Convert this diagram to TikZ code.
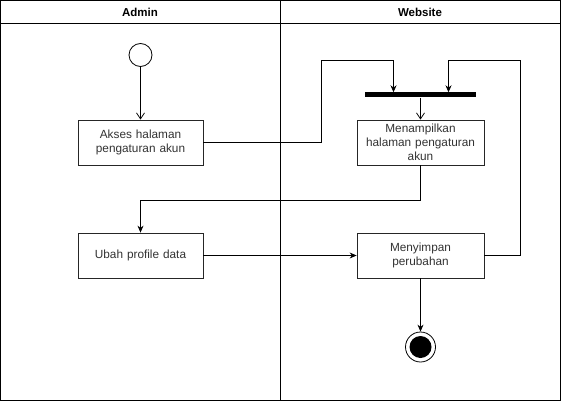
\documentclass[tikz,border=0pt]{standalone}
\usepackage{fontspec}
\setmainfont{Liberation Sans}
\usetikzlibrary{arrows.meta}
\definecolor{txt}{HTML}{333333}
\begin{document}
\begin{tikzpicture}[x=1pt,y=-1pt,
  lane/.style={draw=black,line width=0.8pt},
  act/.style={draw=black!85,line width=0.8pt,fill=white,minimum width=125pt,minimum height=45pt,
    align=center,text=txt,font=\fontsize{11.8}{14}\selectfont,inner sep=2pt,text width=121pt},
  hdr/.style={font=\bfseries\fontsize{11.5}{13}\selectfont},
  flow/.style={draw=black,line width=0.8pt,-{Stealth[length=7pt,width=6pt]}},
  openflow/.style={draw=black,line width=0.8pt,-{Straight Barb[length=6pt,width=8pt]}}]
\useasboundingbox (0,0) rectangle (561,401);
% pool
\draw[lane] (0.5,0.5) rectangle (560.5,400.5);
\draw[lane] (0.5,23) -- (560.5,23);
\draw[lane] (280,0.5) -- (280,400.5);
\node[hdr] (hA) at (140,12) {Admin};
\node[hdr] (hW) at (420,12) {Website};
% nodes
\node[circle,draw=black,line width=0.8pt,minimum size=23pt,inner sep=0pt] (start) at (140.5,55) {};
\node[act,minimum width=125pt] (akses) at (140.5,142.5) {Akses halaman\\pengaturan akun};
\node[act,minimum width=125pt] (ubah) at (140.5,255.5) {Ubah profile data};
\node[fill=black,minimum width=111pt,minimum height=5pt,inner sep=0pt] (bar) at (420.5,95) {};
\node[act,minimum width=127pt] (tampil) at (420.5,142.5) {Menampilkan\\halaman pengaturan\\akun};
\node[act,minimum width=127pt] (simpan) at (420.5,255.5) {Menyimpan\\perubahan};
\node[circle,draw=black,line width=0.8pt,minimum size=30pt,inner sep=0pt] (end) at (420.5,347) {};
\node[circle,fill=black,minimum size=22pt,inner sep=0pt] (endin) at (end.center) {};
% coordinates
\coordinate (a1) at (321,142.5);
\coordinate (a2) at (321,60.5);
\coordinate (a3) at (393.5,60.5);
\coordinate (b1) at (520.5,255.5);
\coordinate (b2) at (520.5,60.5);
\coordinate (b3) at (448.5,60.5);
\coordinate (c1) at (420.5,200.5);
\coordinate (c2) at (140.5,200.5);
% edges
\draw[openflow] (start) -- (akses);
\draw[flow] (akses.east) -- (a1) -- (a2) -- (a3) -- (a3 |- bar.north);
\draw[flow] (simpan.east) -- (b1) -- (b2) -- (b3) -- (b3 |- bar.north);
\draw[openflow] (bar) -- (tampil);
\draw[flow] (tampil.south) -- (c1) -- (c2) -- (ubah.north);
\draw[flow] (ubah) -- (simpan);
\draw[flow] (simpan) -- (end);
\end{tikzpicture}
\end{document}
